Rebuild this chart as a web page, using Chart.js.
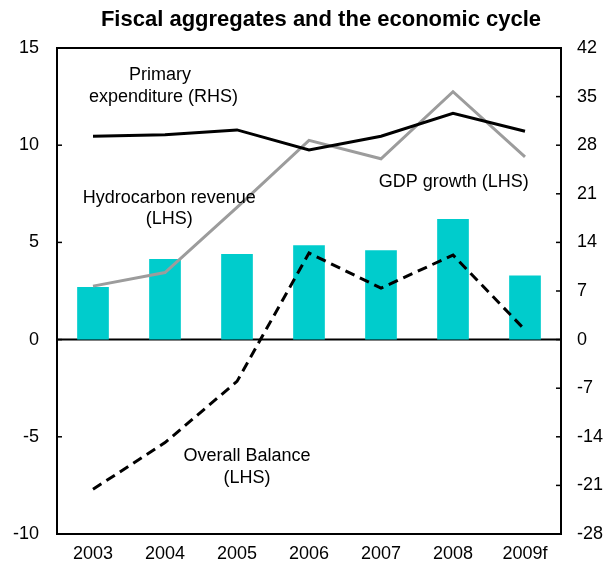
<!DOCTYPE html>
<html>
<head>
<meta charset="utf-8">
<script src="https://cdn.jsdelivr.net/npm/chart.js@4"></script>
<style>
  html, body { margin: 0; padding: 0; background: #fff; }
  canvas { display: block; }
</style>
</head>
<body>
<canvas id="fiscal-chart" width="604" height="571"></canvas>
<script>
// Data
const years = ['2003', '2004', '2005', '2006', '2007', '2008', '2009f'];
const hydrocarbonRevenue = [2.7, 4.15, 4.4, 4.85, 4.6, 6.2, 3.3];
const gdpGrowth = [2.75, 3.45, 6.8, 10.25, 9.3, 12.75, 9.4];
const overallBalance = [-7.7, -5.3, -2.15, 4.45, 2.65, 4.35, 0.5];
const primaryExpenditure = [29.3, 29.5, 30.2, 27.3, 29.3, 32.6, 30.0];
const leftTicks = [-10, -5, 0, 5, 10, 15];
const rightTicks = [-28, -21, -14, -7, 0, 7, 14, 21, 28, 35, 42];

const FONT = '"Liberation Sans", Arial, sans-serif';
Chart.defaults.font.family = FONT;
Chart.defaults.font.size = 18;
Chart.defaults.color = '#000';

// Series labels placed in chart coordinates (category index, LHS value)
const seriesNotes = [
  { text: 'Primary', i: 0.93, v: 13.6 },
  { text: 'expenditure (RHS)', i: 0.98, v: 12.5 },
  { text: 'Hydrocarbon revenue', i: 1.06, v: 7.3 },
  { text: '(LHS)', i: 1.06, v: 6.2 },
  { text: 'GDP growth (LHS)', i: 5.01, v: 8.1 },
  { text: 'Overall Balance', i: 2.14, v: -6.0 },
  { text: '(LHS)', i: 2.14, v: -7.1 }
];

// Frame, zero line and inward tick marks
const framePlugin = {
  id: 'frame',
  beforeDatasetsDraw(chart) {
    const { ctx, chartArea: a, scales } = chart;
    ctx.save();
    ctx.strokeStyle = '#000';
    ctx.lineWidth = 2;
    ctx.strokeRect(a.left, a.top, a.right - a.left, a.bottom - a.top);
    const y0 = scales.y.getPixelForValue(0);
    ctx.beginPath();
    ctx.moveTo(a.left, y0);
    ctx.lineTo(a.right, y0);
    ctx.stroke();
    ctx.lineWidth = 1.5;
    leftTicks.forEach(t => {
      const y = scales.y.getPixelForValue(t);
      ctx.beginPath();
      ctx.moveTo(a.left, y);
      ctx.lineTo(a.left + 5, y);
      ctx.stroke();
    });
    rightTicks.forEach(t => {
      const y = scales.y2.getPixelForValue(t);
      ctx.beginPath();
      ctx.moveTo(a.right, y);
      ctx.lineTo(a.right - 5, y);
      ctx.stroke();
    });
    ctx.restore();
  },
  afterDraw(chart) {
    const { ctx, scales } = chart;
    ctx.save();
    ctx.fillStyle = '#000';
    ctx.textAlign = 'center';
    ctx.textBaseline = 'middle';
    ctx.font = 'bold 22px ' + FONT;
    ctx.fillText('Fiscal aggregates and the economic cycle', 321, 20);
    ctx.font = '18px ' + FONT;
    seriesNotes.forEach(n => {
      ctx.fillText(n.text, scales.x.getPixelForValue(n.i), scales.y.getPixelForValue(n.v));
    });
    ctx.restore();
  }
};

new Chart(document.getElementById('fiscal-chart'), {
  type: 'bar',
  data: {
    labels: years,
    datasets: [
      {
        label: 'Hydrocarbon revenue (LHS)',
        data: hydrocarbonRevenue,
        backgroundColor: '#00CCCC',
        barPercentage: 0.44,
        categoryPercentage: 1,
        yAxisID: 'y',
        order: 4
      },
      {
        type: 'line',
        label: 'GDP growth (LHS)',
        data: gdpGrowth,
        borderColor: '#9C9C9C',
        borderWidth: 3,
        pointRadius: 0,
        tension: 0,
        yAxisID: 'y',
        order: 3
      },
      {
        type: 'line',
        label: 'Overall Balance (LHS)',
        data: overallBalance,
        borderColor: '#000',
        borderWidth: 3,
        borderDash: [10, 6],
        pointRadius: 0,
        tension: 0,
        yAxisID: 'y',
        order: 2
      },
      {
        type: 'line',
        label: 'Primary expenditure (RHS)',
        data: primaryExpenditure,
        borderColor: '#000',
        borderWidth: 3,
        pointRadius: 0,
        tension: 0,
        yAxisID: 'y2',
        order: 1
      }
    ]
  },
  options: {
    responsive: false,
    animation: false,
    layout: { padding: { top: 48, left: 0, right: 0, bottom: 0 } },
    plugins: {
      legend: { display: false },
      tooltip: { enabled: false }
    },
    scales: {
      x: {
        grid: { display: false, drawTicks: false },
        border: { display: false },
        ticks: { padding: 9, maxRotation: 0 },
        afterFit: s => { s.height = 37; }
      },
      y: {
        position: 'left',
        min: -10,
        max: 15,
        afterBuildTicks: s => { s.ticks = leftTicks.map(v => ({ value: v })); },
        grid: { display: false, drawTicks: false },
        border: { display: false },
        ticks: { padding: 18 },
        afterFit: s => { s.width = 57; }
      },
      y2: {
        position: 'right',
        min: -28,
        max: 42,
        afterBuildTicks: s => { s.ticks = rightTicks.map(v => ({ value: v })); },
        grid: { display: false, drawTicks: false },
        border: { display: false },
        ticks: { padding: 16 },
        afterFit: s => { s.width = 43; }
      }
    }
  },
  plugins: [framePlugin]
});
</script>
</body>
</html>
